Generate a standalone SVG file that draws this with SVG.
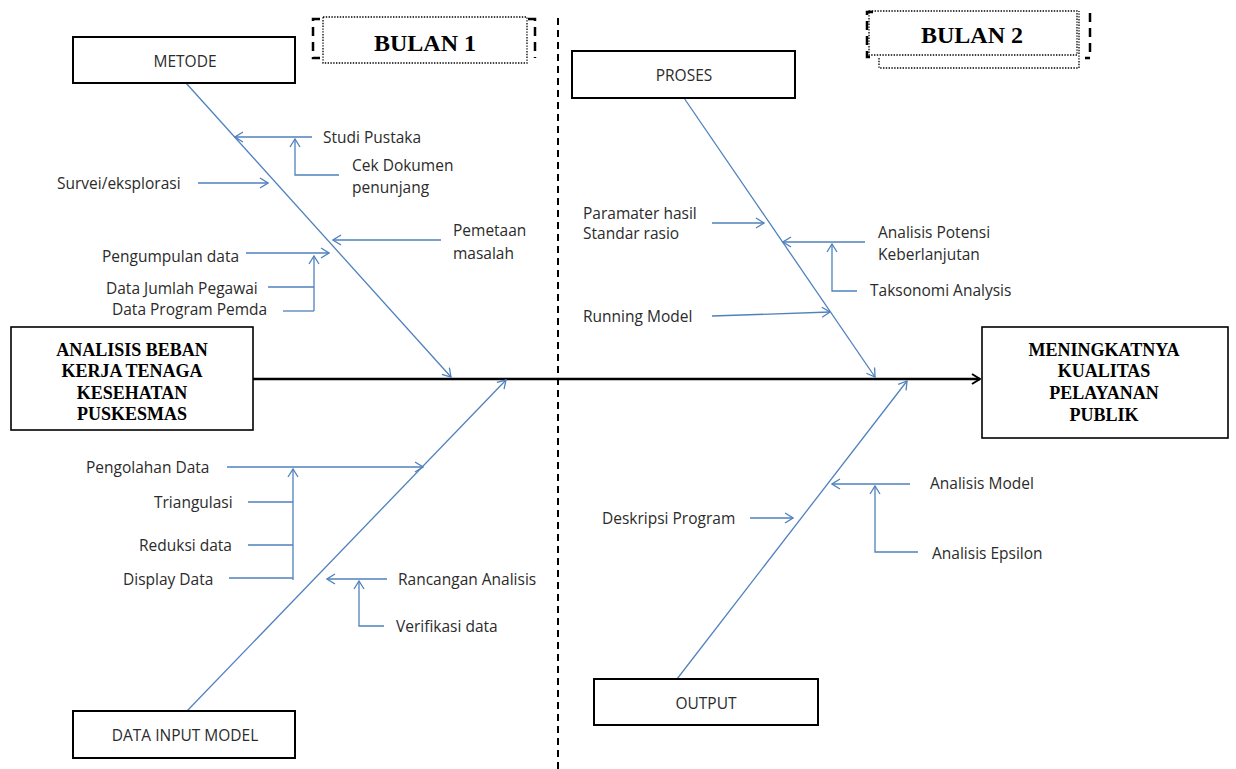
<svg xmlns="http://www.w3.org/2000/svg" width="1236" height="769" viewBox="0 0 1236 769">
<style>
.box{fill:#fff;stroke:#000;stroke-width:2}
.lbl{font-family:"Open Sans","Liberation Sans",sans-serif;font-size:15.5px;fill:#2b2b2b}
.ttl{font-family:"Liberation Serif","Times New Roman",serif;font-weight:bold;font-size:18px;fill:#000;text-anchor:middle}
.bul{font-family:"Liberation Serif","Times New Roman",serif;font-weight:bold;font-size:24px;fill:#000;text-anchor:middle}
.mid{text-anchor:middle}
.bl{fill:none;stroke:#4f81bd;stroke-width:1.3}
.ba{fill:none;stroke:#4f81bd;stroke-width:1.3;marker-end:url(#ab)}
.dot{fill:none;stroke:#000;stroke-width:1.3;stroke-dasharray:1.4 1.4}
.brk{fill:none;stroke:#000;stroke-width:2.5;stroke-dasharray:9 6}
</style>
<defs>
<marker id="ab" markerWidth="10" markerHeight="12" refX="9" refY="6" orient="auto" markerUnits="userSpaceOnUse">
<path d="M1,1 L9,6 L1,11" fill="none" stroke="#4f81bd" stroke-width="1.3"/>
</marker>
<marker id="ak" markerWidth="10" markerHeight="12" refX="9" refY="6" orient="auto" markerUnits="userSpaceOnUse">
<path d="M1,1 L9,6 L1,11" fill="none" stroke="#000" stroke-width="2"/>
</marker>
</defs>
<rect width="1236" height="769" fill="#fff"/>

<!-- divider -->
<line x1="558" y1="18" x2="558" y2="769" stroke="#000" stroke-width="2" stroke-dasharray="7 5"/>

<g id="connectors">
<line x1="253" y1="379" x2="980" y2="379" stroke="#000" stroke-width="2.4" marker-end="url(#ak)"/>
<!-- METODE -->
<path class="ba" d="M186,83 L451,377"/>
<path class="ba" d="M312,137 L235,137"/>
<path class="ba" d="M339,175 H295 V139"/>
<path class="ba" d="M198,183 L268,183"/>
<path class="ba" d="M441,240 L333,240"/>
<path class="ba" d="M246,253 L329,253"/>
<path class="ba" d="M314,311 V256"/>
<path class="bl" d="M268,287 H314"/>
<path class="bl" d="M283,311 H314"/>
<!-- DATA INPUT -->
<path class="ba" d="M187,711 L506,380"/>
<path class="ba" d="M227,467 L423,467"/>
<path class="ba" d="M293,580 V469"/>
<path class="bl" d="M248,502 H293"/>
<path class="bl" d="M248,545 H293"/>
<path class="bl" d="M229,578 H293"/>
<path class="ba" d="M387,579 L327,579"/>
<path class="ba" d="M384,626 H359 V581"/>
<!-- PROSES -->
<path class="ba" d="M684,98 L875,377"/>
<path class="ba" d="M712,223 L764,223"/>
<path class="ba" d="M865,242 L783,242"/>
<path class="ba" d="M857,291 H832 V244"/>
<path class="ba" d="M712,316 L830,312"/>
<!-- OUTPUT -->
<path class="ba" d="M677,679 L907,381"/>
<path class="ba" d="M750,518 L793,518"/>
<path class="ba" d="M910,484 L832,484"/>
<path class="ba" d="M918,552 H875 V486"/>
</g>

<g id="bulan1">
<rect class="dot" x="323" y="17" width="204" height="46"/>
<path class="brk" d="M320,19 H313 V58 H320"/>
<path class="brk" d="M528,19 H535 V58"/>
<text class="bul" x="425" y="51">BULAN 1</text>
</g>

<g id="bulan2">
<rect class="dot" x="869" y="11" width="208" height="44"/>
<path class="dot" d="M879,58 V68 H1079 V11"/>
<path class="brk" d="M873,12 H867 V57 H873"/>
<path class="brk" d="M1090,13 V58 H1085"/>
<text class="bul" x="972" y="43">BULAN 2</text>
</g>

<g id="metode">
<rect class="box" x="73" y="37" width="222" height="46"/>
<text class="lbl mid" x="185" y="66.5">METODE</text>
</g>
<g id="proses">
<rect class="box" x="572" y="51" width="223" height="47"/>
<text class="lbl mid" x="684" y="80.5">PROSES</text>
</g>
<g id="data-input">
<rect class="box" x="73" y="711" width="222" height="47"/>
<text class="lbl mid" x="185" y="740.5">DATA INPUT MODEL</text>
</g>
<g id="output">
<rect class="box" x="594" y="679" width="224" height="46"/>
<text class="lbl mid" x="706" y="708.5">OUTPUT</text>
</g>
<g id="analisis">
<rect x="11" y="327" width="242" height="103" fill="#fff" stroke="#000" stroke-width="1.6"/>
<text class="ttl" x="132" y="355.5">ANALISIS BEBAN</text>
<text class="ttl" x="132" y="376.5">KERJA TENAGA</text>
<text class="ttl" x="132" y="398.5">KESEHATAN</text>
<text class="ttl" x="132" y="419.5">PUSKESMAS</text>
</g>
<g id="hasil">
<rect x="982" y="327" width="246" height="111" fill="#fff" stroke="#000" stroke-width="1.6"/>
<text class="ttl" x="1104" y="355.5">MENINGKATNYA</text>
<text class="ttl" x="1104" y="376.5">KUALITAS</text>
<text class="ttl" x="1104" y="398.5">PELAYANAN</text>
<text class="ttl" x="1104" y="420.5">PUBLIK</text>
</g>

<g id="labels-metode">
<text class="lbl" x="323" y="142.5">Studi Pustaka</text>
<text class="lbl" x="352" y="170.5">Cek Dokumen</text>
<text class="lbl" x="352" y="192.5">penunjang</text>
<text class="lbl" x="57" y="188.5">Survei/eksplorasi</text>
<text class="lbl" x="453" y="235.5">Pemetaan</text>
<text class="lbl" x="453" y="258.5">masalah</text>
<text class="lbl" x="102" y="261.5">Pengumpulan data</text>
<text class="lbl" x="106" y="293.5">Data Jumlah Pegawai</text>
<text class="lbl" x="112" y="315">Data Program Pemda</text>
</g>
<g id="labels-data-input">
<text class="lbl" x="86" y="472.5">Pengolahan Data</text>
<text class="lbl" x="154" y="507.5">Triangulasi</text>
<text class="lbl" x="139" y="550.5">Reduksi data</text>
<text class="lbl" x="123" y="584.5">Display Data</text>
<text class="lbl" x="398" y="584.5">Rancangan Analisis</text>
<text class="lbl" x="396" y="631.5">Verifikasi data</text>
</g>
<g id="labels-proses">
<text class="lbl" x="583" y="218.5">Paramater hasil</text>
<text class="lbl" x="583" y="238.5">Standar rasio</text>
<text class="lbl" x="878" y="237.5">Analisis Potensi</text>
<text class="lbl" x="878" y="259.5">Keberlanjutan</text>
<text class="lbl" x="870" y="295.5">Taksonomi Analysis</text>
<text class="lbl" x="583" y="321.5">Running Model</text>
</g>
<g id="labels-output">
<text class="lbl" x="602" y="523.5">Deskripsi Program</text>
<text class="lbl" x="930" y="488.5">Analisis Model</text>
<text class="lbl" x="932" y="558.5">Analisis Epsilon</text>
</g>
</svg>
